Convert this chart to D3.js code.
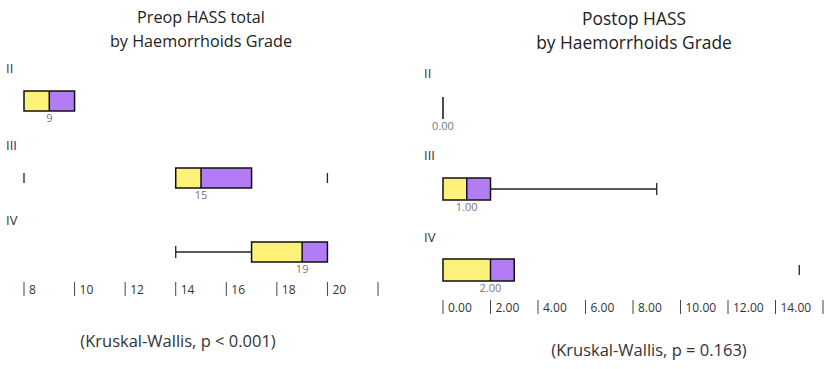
<!DOCTYPE html>
<html>
<head>
<meta charset="utf-8">
<script src="https://cdn.jsdelivr.net/npm/d3@7"></script>
<style>
  body { margin: 0; background: #fff; }
  svg text { font-family: "Open Sans", "Liberation Sans", Arial, sans-serif; }
</style>
</head>
<body>
<div id="chart"></div>
<script>
// grades (rows)
const grades = ["II", "III", "IV"];

// preop HASS total: five-number summaries per grade
const preopMin = [8, 14, 14];
const preopQ1 = [8, 14, 17];
const preopMedian = [9, 15, 19];
const preopQ3 = [10, 17, 20];
const preopMax = [10, 17, 20];
const preopOutliers = [[], [8, 20], []];
const preopTicks = [8, 10, 12, 14, 16, 18, 20, 22];
const preopTickLabels = ["8", "10", "12", "14", "16", "18", "20", ""];

// postop HASS
const postMin = [0, 0, 0];
const postQ1 = [0, 0, 0];
const postMedian = [0, 1, 2];
const postQ3 = [0, 2, 3];
const postMax = [0, 9, 3];
const postOutliers = [[], [], [15]];
const postTicks = [0, 2, 4, 6, 8, 10, 12, 14, 16];
const postTickLabels = ["0.00", "2.00", "4.00", "6.00", "8.00", "10.00", "12.00", "14.00", ""];

const width = 829, height = 369;
const svg = d3.select("#chart").append("svg")
  .attr("width", width)
  .attr("height", height);

const yellow = "#fcf27a";
const purple = "#b27cf5";

function panel(cfg) {
  const g = svg.append("g");
  const x = d3.scaleLinear().domain(cfg.domain).range(cfg.range);

  g.append("text")
    .attr("x", cfg.titleX).attr("y", cfg.titleY)
    .attr("text-anchor", "middle")
    .attr("font-size", cfg.titleSize)
    .attr("fill", "#222")
    .text(cfg.title1);
  g.append("text")
    .attr("x", cfg.titleX).attr("y", cfg.titleY + 24)
    .attr("text-anchor", "middle")
    .attr("font-size", cfg.titleSize)
    .attr("fill", "#222")
    .text(cfg.title2);

  const rows = grades.map((gr, i) => ({
    grade: gr,
    min: cfg.min[i], q1: cfg.q1[i], med: cfg.median[i],
    q3: cfg.q3[i], max: cfg.max[i], out: cfg.outliers[i],
    labelY: cfg.labelY[i], boxY: cfg.boxY[i]
  }));

  rows.forEach(d => {
    // grade label
    g.append("text")
      .attr("x", cfg.gradeX).attr("y", d.labelY)
      .attr("font-size", 13)
      .attr("fill", "#333")
      .text(d.grade);

    const y0 = d.boxY, bh = cfg.boxH, ym = y0 + bh / 2;

    // whiskers
    if (d.min < d.q1) {
      g.append("line").attr("x1", x(d.min)).attr("x2", x(d.q1))
        .attr("y1", ym).attr("y2", ym).attr("stroke", "#222").attr("stroke-width", 1.3);
      g.append("line").attr("x1", x(d.min)).attr("x2", x(d.min))
        .attr("y1", ym - 6).attr("y2", ym + 6).attr("stroke", "#222").attr("stroke-width", 1.3);
    }
    if (d.max > d.q3) {
      g.append("line").attr("x1", x(d.q3)).attr("x2", x(d.max))
        .attr("y1", ym).attr("y2", ym).attr("stroke", "#222").attr("stroke-width", 1.3);
      g.append("line").attr("x1", x(d.max)).attr("x2", x(d.max))
        .attr("y1", ym - 6).attr("y2", ym + 6).attr("stroke", "#222").attr("stroke-width", 1.3);
    }

    if (d.q3 > d.q1) {
      g.append("rect")
        .attr("x", x(d.q1)).attr("y", y0)
        .attr("width", x(d.med) - x(d.q1)).attr("height", bh)
        .attr("fill", yellow);
      g.append("rect")
        .attr("x", x(d.med)).attr("y", y0)
        .attr("width", x(d.q3) - x(d.med)).attr("height", bh)
        .attr("fill", purple);
      g.append("rect")
        .attr("x", x(d.q1)).attr("y", y0)
        .attr("width", x(d.q3) - x(d.q1)).attr("height", bh)
        .attr("fill", "none").attr("stroke", "#111").attr("stroke-width", 1.5);
      g.append("line")
        .attr("x1", x(d.med)).attr("x2", x(d.med))
        .attr("y1", y0).attr("y2", y0 + bh)
        .attr("stroke", "#111").attr("stroke-width", 1.5);
    } else {
      g.append("line")
        .attr("x1", x(d.med)).attr("x2", x(d.med))
        .attr("y1", y0).attr("y2", y0 + bh)
        .attr("stroke", "#111").attr("stroke-width", 1.5);
    }

    // outliers drawn as short bars
    d.out.forEach(o => {
      g.append("line")
        .attr("x1", x(o)).attr("x2", x(o))
        .attr("y1", ym - 5).attr("y2", ym + 5)
        .attr("stroke", "#222").attr("stroke-width", 1.3);
    });

    // median label
    g.append("text")
      .attr("x", x(d.med)).attr("y", y0 + bh + 11)
      .attr("text-anchor", "middle")
      .attr("font-size", 11)
      .attr("fill", "#777")
      .text(cfg.fmt(d.med));
  });

  // axis: bars followed by labels
  const ax = g.append("g");
  cfg.ticks.forEach((t, i) => {
    ax.append("line")
      .attr("x1", x(t)).attr("x2", x(t))
      .attr("y1", cfg.axisY - 8).attr("y2", cfg.axisY + 6)
      .attr("stroke", "#444").attr("stroke-width", 1);
    ax.append("text")
      .attr("x", x(t) + 5).attr("y", cfg.axisY + 4)
      .attr("font-size", 12)
      .attr("fill", "#333")
      .text(cfg.tickLabels[i]);
  });

  g.append("text")
    .attr("x", cfg.capX).attr("y", cfg.capY)
    .attr("text-anchor", "middle")
    .attr("font-size", 16.5)
    .attr("fill", "#333")
    .text(cfg.caption);
}

panel({
  domain: [8, 22], range: [24, 378],
  title1: "Preop HASS total", title2: "by Haemorrhoids Grade",
  titleX: 201, titleY: 23, titleSize: 16.2,
  min: preopMin, q1: preopQ1, median: preopMedian, q3: preopQ3, max: preopMax,
  outliers: preopOutliers,
  gradeX: 6, labelY: [73, 150, 225], boxY: [91, 168, 242], boxH: 20,
  ticks: preopTicks, tickLabels: preopTickLabels, axisY: 290,
  fmt: d3.format("d"),
  caption: "(Kruskal-Wallis, p < 0.001)", capX: 178, capY: 347
});

panel({
  domain: [0, 16], range: [443, 823],
  title1: "Postop HASS", title2: "by Haemorrhoids Grade",
  titleX: 634, titleY: 25, titleSize: 17.4,
  min: postMin, q1: postQ1, median: postMedian, q3: postQ3, max: postMax,
  outliers: postOutliers,
  gradeX: 424, labelY: [78, 160, 242], boxY: [97, 178, 259], boxH: 22,
  ticks: postTicks, tickLabels: postTickLabels, axisY: 308,
  fmt: d3.format(".2f"),
  caption: "(Kruskal-Wallis, p = 0.163)", capX: 649, capY: 356
});
</script>
</body>
</html>
